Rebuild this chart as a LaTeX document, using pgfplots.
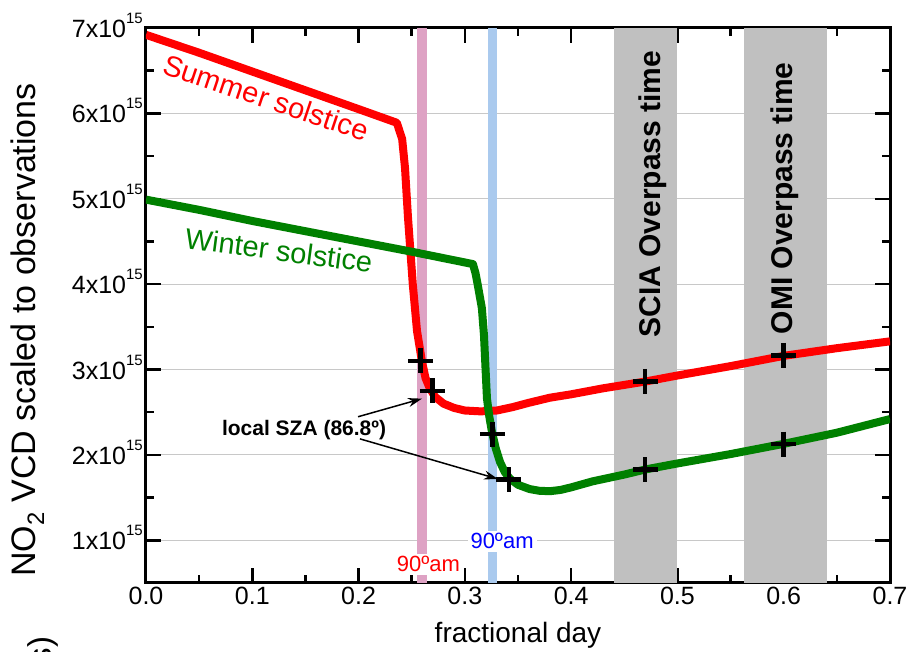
\documentclass[border=0pt]{standalone}
\usepackage{fontspec}
\setmainfont{Liberation Sans}
\usepackage{pgfplots}
\pgfplotsset{compat=1.18}
\usetikzlibrary{arrows.meta}
\definecolor{bandpink}{RGB}{222,162,196}
\definecolor{bandblue}{RGB}{170,202,238}
\definecolor{bandgray}{RGB}{192,192,192}
\definecolor{curvegreen}{RGB}{0,128,0}
\definecolor{gridgray}{RGB}{200,200,200}
\newcommand{\fs}[1]{\fontsize{#1}{#1}\selectfont}
\newcommand{\sx}{x10\raisebox{14pt}{\fs{15}15}}
\begin{document}
\begin{tikzpicture}
\path[use as bounding box] (-146pt,-69pt) rectangle (764pt,583pt);
\begin{axis}[
  at={(0pt,0pt)}, anchor=south west,
  scale only axis, width=744pt, height=555pt,
  xmin=0, xmax=0.7, ymin=0.5, ymax=7,
  xtick={0,0.1,0.2,0.3,0.4,0.5,0.6,0.7},
  xticklabels={0.0,0.1,0.2,0.3,0.4,0.5,0.6,0.7},
  minor xtick={0.05,0.15,0.25,0.35,0.45,0.55,0.65},
  ytick={1,2,3,4,5,6,7},
  yticklabels={1\sx,2\sx,3\sx,4\sx,5\sx,6\sx,7\sx},
  minor ytick={1.5,2.5,3.5,4.5,5.5,6.5},
  tick align=inside,
  major tick length=15pt, minor tick length=8pt,
  every tick/.style={black, line width=2.5pt},
  axis line style={line width=3pt},
  ymajorgrids, grid style={line width=1pt, color=gridgray},
  ticklabel style={font=\fs{25}},
  yticklabel style={anchor=base east, yshift=-9.5pt, xshift=0pt, inner sep=3pt},
  xticklabel style={yshift=-1pt},
]
% bands
\addplot[draw=none, fill=bandpink] coordinates {(0.255,0.5) (0.264,0.5) (0.264,7) (0.255,7)} -- cycle;
\addplot[draw=none, fill=bandblue] coordinates {(0.322,0.5) (0.330,0.5) (0.330,7) (0.322,7)} -- cycle;
\addplot[draw=none, fill=bandgray] coordinates {(0.44,0.5) (0.50,0.5) (0.50,7) (0.44,7)} -- cycle;
\addplot[draw=none, fill=bandgray] coordinates {(0.563,0.5) (0.641,0.5) (0.641,7) (0.563,7)} -- cycle;
% summer
\addplot[red, line width=8pt, line join=round] coordinates {
(0,6.92) (0.05,6.71) (0.10,6.49) (0.15,6.27) (0.20,6.05) (0.236,5.89)
(0.241,5.70) (0.2437,5.36) (0.2465,4.78) (0.251,4.00) (0.255,3.45)
(0.2597,3.09) (0.263,2.90) (0.267,2.78) (0.272,2.68) (0.280,2.60)
(0.290,2.55) (0.300,2.52) (0.315,2.51) (0.330,2.52) (0.345,2.56)
(0.360,2.61) (0.380,2.67) (0.400,2.71) (0.430,2.78) (0.470,2.86)
(0.500,2.93) (0.550,3.04) (0.600,3.16) (0.650,3.25) (0.700,3.33)};
% winter
\addplot[curvegreen, line width=8pt, line join=round] coordinates {
(0,4.99) (0.05,4.87) (0.10,4.74) (0.15,4.62) (0.20,4.50) (0.25,4.38)
(0.3076,4.235) (0.310,4.13) (0.312,4.00) (0.316,3.72) (0.318,3.40)
(0.3195,3.00) (0.3208,2.66) (0.323,2.45) (0.3255,2.27) (0.329,2.08)
(0.333,1.92) (0.3375,1.80) (0.3425,1.72) (0.350,1.65) (0.361,1.60)
(0.370,1.58) (0.380,1.575) (0.390,1.59) (0.400,1.62) (0.420,1.69)
(0.450,1.77) (0.470,1.83) (0.500,1.90) (0.550,2.01) (0.600,2.13)
(0.650,2.26) (0.700,2.42)};
% crosses
\addplot[only marks, mark=+, mark size=12.5pt, mark options={line width=4.5pt, black}] coordinates {
(0.2584,3.10) (0.2694,2.75) (0.4695,2.86) (0.5996,3.165)
(0.3258,2.243) (0.3415,1.71) (0.4695,1.827) (0.5996,2.126)};
% labels
\node[red, rotate=-18.5, anchor=base, font=\fs{29}] at (axis cs:0.110,6.07) {Summer solstice};
\node[curvegreen, rotate=-7.5, anchor=base, font=\fs{29}] at (axis cs:0.1237,4.276) {Winter solstice};
\node[rotate=90, anchor=base, font=\fs{30}\bfseries] at (axis cs:0.4845,5.053) {SCIA Overpass time};
\node[rotate=90, anchor=base, font=\fs{30}\bfseries] at (axis cs:0.6078,5.006) {OMI Overpass time};
\node[red, fill=white, inner sep=3pt, font=\fs{22}] at (axis cs:0.2658,0.718) {90ºam};
\node[blue, fill=white, inner sep=3pt, font=\fs{22}] at (axis cs:0.335,0.988) {90ºam};
\node[font=\fs{21}\bfseries] at (axis cs:0.1487,2.294) {local SZA (86.8º)};
\draw[line width=1.5pt, -{Stealth[length=14pt,width=9pt]}] (axis cs:0.1995,2.447) -- (axis cs:0.2597,2.659);
\draw[line width=1.5pt, -{Stealth[length=14pt,width=9pt]}] (axis cs:0.2013,2.188) -- (axis cs:0.3312,1.718);
\end{axis}
\node[rotate=90, anchor=base, font=\fs{34}] at (-110pt,253pt) {NO\textsubscript{2} VCD scaled to observations};
\node[rotate=90, anchor=base east, font=\fs{33}] at (-94pt,-50pt) {(molec cm\textsuperscript{-2} s)};
\node[anchor=base, font=\fs{28}] at (372pt,-60pt) {fractional day};
\end{tikzpicture}
\end{document}
